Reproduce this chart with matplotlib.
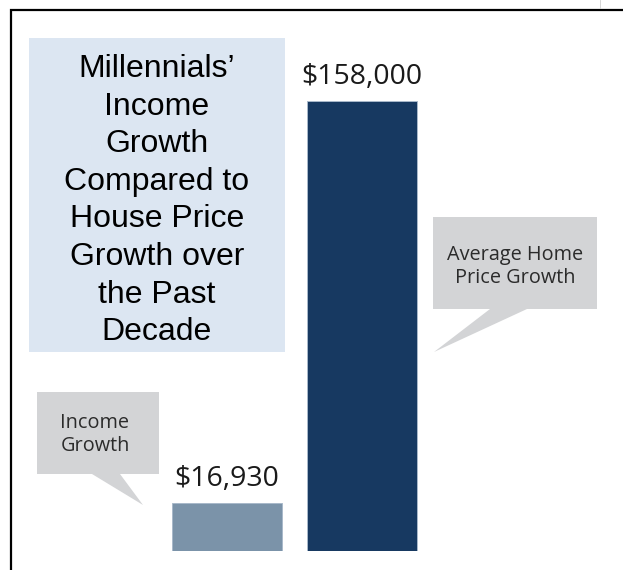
import matplotlib.pyplot as plt
from matplotlib.patches import Rectangle, Polygon
from matplotlib.lines import Line2D

# donnees du graphique
categories = ['Income Growth', 'Average Home Price Growth']
valeurs = [16930, 158000]
etiquettes = ['$16,930', '$158,000']
couleurs = ['#7b93a9', '#173961']

titre = 'Millennials\u2019\nIncome\nGrowth\nCompared to\nHouse Price\nGrowth over\nthe Past\nDecade'
bulle_gauche = 'Income\nGrowth'
bulle_droite = 'Average Home\nPrice Growth'

W, H = 623, 570

def fx(x):
	return x / W

def fy(y):
	return 1 - y / H


fig = plt.figure(figsize=(W / 100, H / 100), dpi=100)
fig.patch.set_facecolor('white')

# axe des barres : base a y=551 px, sommet de la plus grande barre a y=101 px
ax = fig.add_axes([0, fy(551), 1, (551 - 101) / H])
pos = [0, 1]
ax.bar(pos, valeurs, width=110 / 135, color=couleurs, edgecolor='#a9b9ca', linewidth=0.7)
ax.set_xlim(-227 / 135, (W - 227) / 135)
ax.set_ylim(0, max(valeurs))
ax.axis('off')

for p, v, lab in zip(pos, valeurs, etiquettes):
	ax.annotate(lab, (p, v), xytext=(0, 12), textcoords='offset points',
				ha='center', va='baseline', fontsize=20.5, family='Open Sans', color='#1a1a1a')

# cadre noir (haut et gauche)
fig.add_artist(Line2D([fx(11), fx(11), 1.0], [0, fy(9.5), fy(9.5)], color='black', lw=1.6,
					  transform=fig.transFigure, solid_joinstyle='miter'))
fig.add_artist(Line2D([fx(600), fx(600)], [fy(0), fy(8)], color='#d0d0d0', lw=0.6,
					  transform=fig.transFigure))

# encadre du titre
fig.add_artist(Rectangle((fx(29), fy(352)), (285 - 29) / W, (352 - 38) / H,
						 facecolor='#dce6f2', edgecolor='none', transform=fig.transFigure))
fig.text(fx(157), fy(54), titre, ha='center', va='top', multialignment='center',
		 fontsize=23, family='Liberation Sans', color='black', linespacing=1.33)

# bulles grises
gris = '#d3d4d6'
pts_g = [(37, 392), (159, 392), (159, 474), (120, 474), (143, 505), (92, 474), (37, 474)]
fig.add_artist(Polygon([(fx(a), fy(b)) for a, b in pts_g], closed=True, facecolor=gris,
					   edgecolor='none', transform=fig.transFigure))
fig.text(fx(95), fy(413), bulle_gauche, ha='center', va='top', multialignment='center',
		 fontsize=14.3, family='Open Sans', color='#2b2b2b', linespacing=1.22)

pts_d = [(433, 217), (597, 217), (597, 309), (527, 309), (434, 352), (490, 309), (433, 309)]
fig.add_artist(Polygon([(fx(a), fy(b)) for a, b in pts_d], closed=True, facecolor=gris,
					   edgecolor='none', transform=fig.transFigure))
fig.text(fx(515), fy(245), bulle_droite, ha='center', va='top', multialignment='center',
		 fontsize=14.3, family='Open Sans', color='#2b2b2b', linespacing=1.22)

fig.savefig('out.png', dpi=100)
